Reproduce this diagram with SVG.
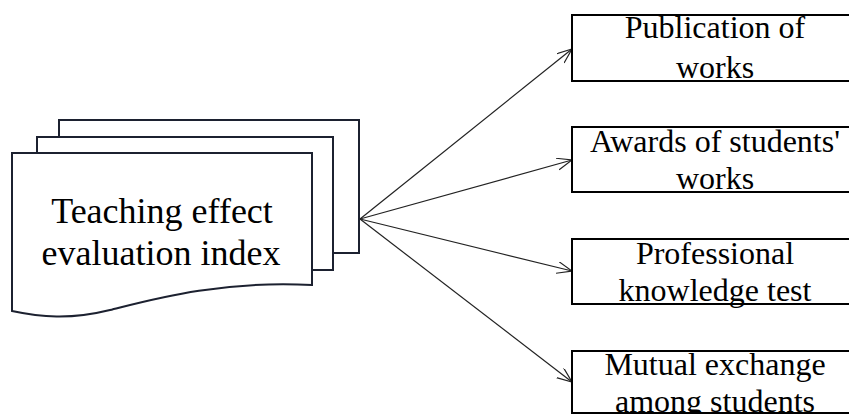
<svg xmlns="http://www.w3.org/2000/svg" width="849" height="415" viewBox="0 0 849 415">
<style>
.doc{fill:#fff;stroke:#1c2130;stroke-width:2}
.box{fill:#fff;stroke:#000;stroke-width:2}
.t{font-family:'Liberation Serif','DejaVu Serif',serif;fill:#000;text-anchor:middle}
.big{font-size:36px}
.sm{font-size:32px}
.conn{stroke:#222;stroke-width:1.2;fill:none;marker-end:url(#arr)}
</style>
<defs>
<marker id="arr" markerUnits="userSpaceOnUse" markerWidth="18" markerHeight="14" refX="15" refY="6" orient="auto" viewBox="0 0 18 14">
<path d="M0,0 L15,6 L0,12" fill="none" stroke="#222" stroke-width="1.2"/>
</marker>
<clipPath id="c4"><rect x="572" y="351" width="290" height="61"/></clipPath>
</defs>
<g id="main">
<rect class="doc" x="59" y="120" width="300" height="133"/>
<rect class="doc" x="37" y="137" width="296" height="133"/>
<path class="doc" d="M12,153 H312 V285 C220,280 150,300 110,310 C70,320 40,317 12,311 Z"/>
<text class="t big" x="162" y="223">Teaching effect</text>
<text class="t big" x="161" y="265">evaluation index</text>
</g>
<g id="connectors">
<line class="conn" x1="360" y1="219" x2="572" y2="49"/>
<line class="conn" x1="360" y1="219" x2="572" y2="160"/>
<line class="conn" x1="360" y1="219" x2="572" y2="271"/>
<line class="conn" x1="360" y1="219" x2="572" y2="382"/>
</g>
<g id="n1">
<rect class="box" x="572" y="15" width="290" height="66"/>
<text class="t sm" x="715" y="38">Publication of</text>
<text class="t sm" x="715" y="78">works</text>
</g>
<g id="n2">
<rect class="box" x="572" y="127" width="290" height="65"/>
<text class="t sm" x="715" y="152">Awards of students'</text>
<text class="t sm" x="715" y="189">works</text>
</g>
<g id="n3">
<rect class="box" x="572" y="239" width="290" height="65"/>
<text class="t sm" x="715" y="264">Professional</text>
<text class="t sm" x="715" y="301">knowledge test</text>
</g>
<g id="n4">
<rect class="box" x="572" y="351" width="290" height="62"/>
<g clip-path="url(#c4)">
<text class="t sm" x="715" y="375">Mutual exchange</text>
<text class="t sm" x="715" y="412">among students</text>
</g>
</g>
</svg>
